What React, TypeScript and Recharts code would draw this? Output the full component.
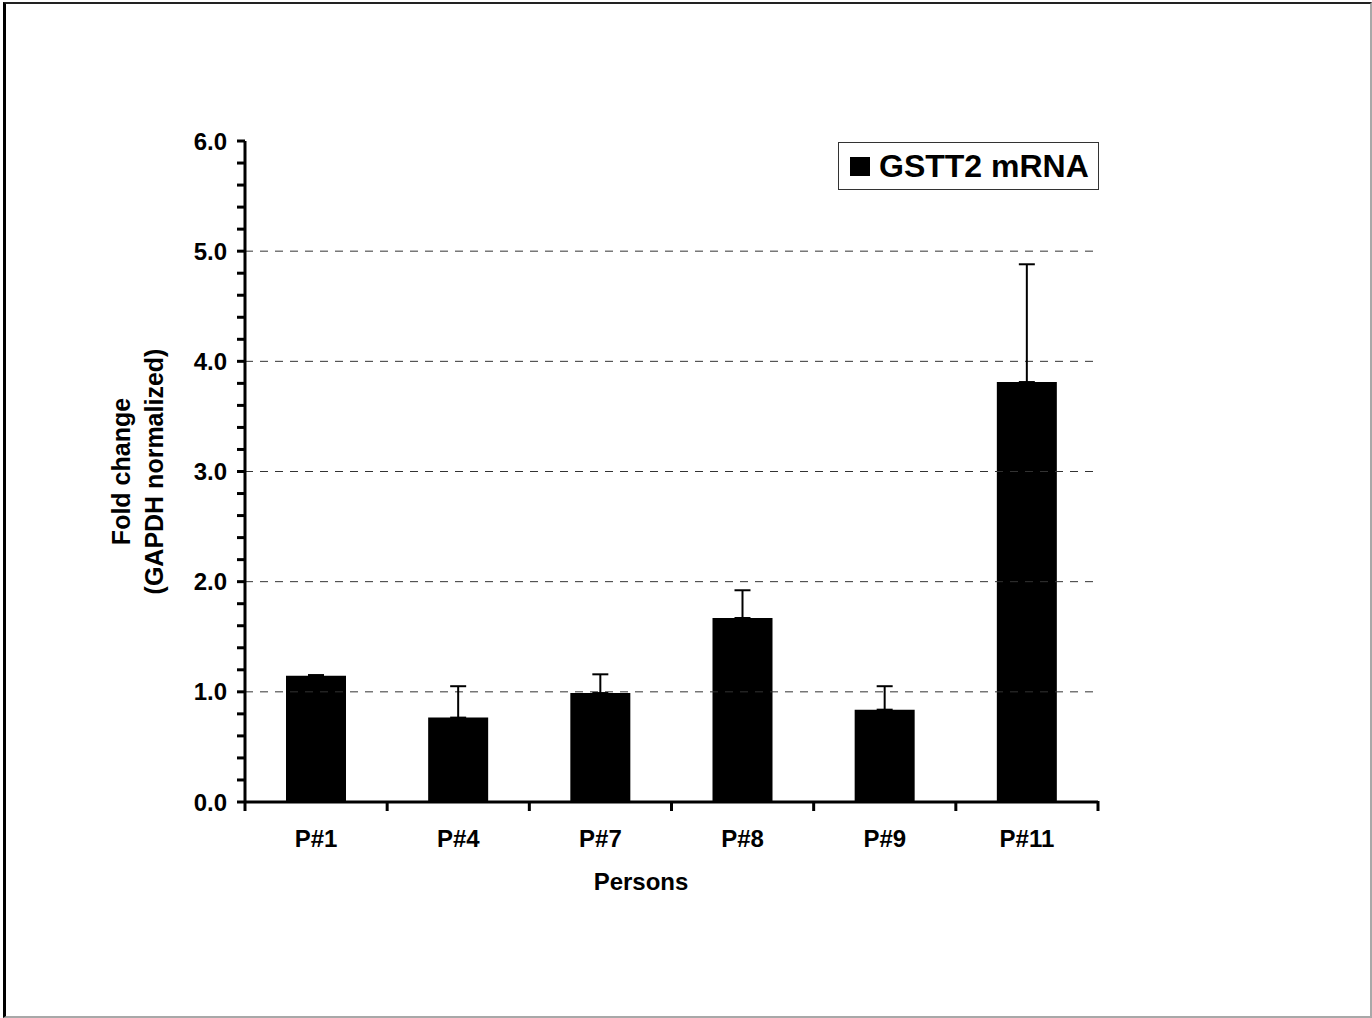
import { BarChart, Bar, XAxis, YAxis, ErrorBar, ReferenceLine, Legend } from "recharts";

// Values (fold change, upper SD only).
const persons = ["P#1", "P#4", "P#7", "P#8", "P#9", "P#11"];
const foldChange = [1.147, 0.766, 0.989, 1.67, 0.838, 3.812];
const upperError = [0.005, 0.285, 0.17, 0.252, 0.213, 1.069];

const yTicks = [
  0, 0.2, 0.4, 0.6, 0.8, 1, 1.2, 1.4, 1.6, 1.8, 2, 2.2, 2.4, 2.6, 2.8, 3, 3.2, 3.4, 3.6, 3.8, 4, 4.2, 4.4,
  4.6, 4.8, 5, 5.2, 5.4, 5.6, 5.8, 6,
];
const gridLines = [1, 2, 3, 4, 5];

const FONT = '"Liberation Sans", Arial, sans-serif';
const X_TICK_SIZE = 10;
const X_TICK_MARGIN = 18;

const data = persons.map((name, i) => ({
  name,
  value: foldChange[i],
  err: [0, upperError[i]],
}));

// Label under each bar, plus the little tick marks at the category edges
// (Excel-style "between categories" ticks).
function PersonTick({ x, y, payload, index }: any) {
  const half = payload && payload.offset ? payload.offset : 71.08;
  const axisY = y - X_TICK_SIZE - X_TICK_MARGIN - 1;
  return (
    <g>
      {index === 0 && (
        <line x1={x - half} x2={x - half} y1={axisY} y2={axisY + X_TICK_SIZE} stroke="#000" strokeWidth={3} />
      )}
      <line x1={x + half} x2={x + half} y1={axisY} y2={axisY + X_TICK_SIZE} stroke="#000" strokeWidth={3} />
      <text
        x={x}
        y={y + 17}
        textAnchor="middle"
        fontFamily={FONT}
        fontWeight="bold"
        fontSize={24}
        fill="#000"
      >
        {payload.value}
      </text>
    </g>
  );
}

function LegendBox({ payload }: any) {
  const label = payload && payload[0] ? payload[0].value : "";
  return (
    <div
      style={{
        boxSizing: "border-box",
        width: 261,
        height: 48,
        border: "1px solid #333",
        background: "#fff",
        display: "flex",
        alignItems: "center",
        paddingLeft: 11,
        fontFamily: FONT,
        fontWeight: "bold",
        fontSize: 32,
        color: "#000",
      }}
    >
      <span style={{ display: "inline-block", width: 20, height: 19, background: "#000", marginRight: 9 }} />
      <span>{label}</span>
    </div>
  );
}

function YTitle({ viewBox }: any) {
  const cy = viewBox.y + viewBox.height / 2;
  return (
    <g fontFamily={FONT} fontWeight="bold" fontSize={25} fill="#000">
      <text x={121} y={cy} textAnchor="middle" dominantBaseline="central" transform={`rotate(-90 121 ${cy})`}>
        Fold change
      </text>
      <text x={154} y={cy} textAnchor="middle" dominantBaseline="central" transform={`rotate(-90 154 ${cy})`}>
        (GAPDH normalized)
      </text>
    </g>
  );
}

function XTitle({ viewBox }: any) {
  return (
    <text
      x={viewBox.x + 396}
      y={viewBox.y + 88}
      textAnchor="middle"
      fontFamily={FONT}
      fontWeight="bold"
      fontSize={24}
      fill="#000"
    >
      Persons
    </text>
  );
}

export default function App() {
  const tickStyle = { fill: "#000", fontFamily: FONT, fontWeight: "bold" };
  return (
    <div style={{ position: "absolute", left: 0, top: 0, width: 1372, height: 1018, background: "#fff" }}>
      <div
        style={{
          position: "absolute",
          left: 3,
          top: 2,
          width: 1369,
          height: 1016,
          boxSizing: "border-box",
          borderLeft: "3px solid #000",
          borderTop: "2px solid #222",
          borderRight: "2px solid #a8a8a8",
          borderBottom: "2px solid #a8a8a8",
        }}
      />
      <div style={{ position: "absolute", left: 0, top: 0 }}>
        <BarChart
          width={1372}
          height={1018}
          data={data}
          margin={{ top: 141, right: 274, bottom: 215, left: 185 }}
          barCategoryGap={0}
        >
          <XAxis
            dataKey="name"
            height={1}
            interval={0}
            axisLine={{ stroke: "#000", strokeWidth: 3 }}
            tickLine={false}
            tickSize={X_TICK_SIZE}
            tickMargin={X_TICK_MARGIN}
            tick={<PersonTick />}
            label={<XTitle />}
          />
          <YAxis
            width={60}
            domain={[0, 6]}
            ticks={yTicks}
            interval={0}
            tickSize={8}
            tickMargin={10}
            axisLine={{ stroke: "#000", strokeWidth: 3 }}
            tickLine={{ stroke: "#000", strokeWidth: 3 }}
            tick={{ ...tickStyle, fontSize: 24 }}
            tickFormatter={(v: number) => (v % 1 === 0 ? v.toFixed(1) : "")}
            label={<YTitle />}
          />
          {gridLines.map((g) => (
            <ReferenceLine key={g} y={g} stroke="#333" strokeWidth={1} strokeDasharray="8 7" />
          ))}
          <Legend
            layout="horizontal"
            verticalAlign="middle"
            content={<LegendBox />}
            wrapperStyle={{ left: 838, top: 142, width: 261, height: 48 }}
          />
          <Bar dataKey="value" name="GSTT2 mRNA" fill="#000" barSize={60} isAnimationActive={false}>
            <ErrorBar dataKey="err" direction="y" width={8} stroke="#000" strokeWidth={2} />
          </Bar>
        </BarChart>
      </div>
    </div>
  );
}
